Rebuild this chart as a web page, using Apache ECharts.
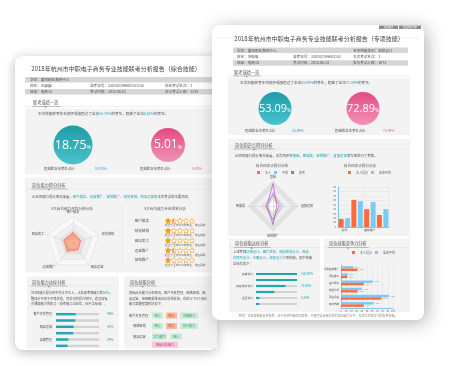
<!DOCTYPE html>
<html><head><meta charset="utf-8">
<script src="https://cdn.jsdelivr.net/npm/echarts@6/dist/echarts.min.js"></script>
<style>html,body{margin:0;padding:0;background:#fff}#c{width:453px;height:366px}</style>
</head><body><div id="c"></div>
<script>
// ---------- data ----------
const backTitle = '2018年杭州市中职电子商务专业技能联考分析报告（综合技能）';
const frontTitle = '2018年杭州市中职电子商务专业技能联考分析报告（专项技能）';
const backScores = [18.75, 5.01];
const frontScores = [53.09, 72.89];
const backRadarNames = ['客户服务', '网店美工', '运营推广', '网店运营', '视觉营销'];
const backRadarValues = [40, 36, 38, 32, 30];
const starNames = ['客户服务', '视觉营销', '网店美工', '运营推广', '营销推广'];
const starRatings = [1.5, 1, 1, 1.5, 1];
const starMax = 5;
const backSkillNames = ['客户关系管理', '网络营销', '网店运营', '网页设计', '店铺管理', '市场营销'];
const backSkillValues = [46, 45, 41, 40, 29, 27];
const frontRadarNames = ['基础', '客服类', '营销推广', '直播运营'];
const frontRadarOwn = [45, 30, 55, 25];
const frontRadarAvg = [55, 20, 65, 35];
const frontRadarTop = [90, 25, 75, 15];
const frontBarCats = ['视觉', '客服类', '营销推广', '运营推广'];
const frontBarOwn = [18, 61, 40, 27];
const frontBarAvg = [20, 58, 56, 40];
const frontSkillNames = ['店铺设计', '图片处理', '网店装修设计', '商品详情页设计', '主图设计', '海报设计'];
const frontSkillValues = [100, 100, 72, 45, 8.33, 8.33];
const compNames = ['视觉营销推广', '网店美工', '客户服务', '数据分析', '网店运营', '移动电商'];
const compAvg = [24, 13, 61, 40, 92, 63];
const compOwn = [32, 12, 44, 32, 78, 44];

// ---------- helpers ----------
const F = '"Noto Sans CJK SC","Noto Sans",sans-serif';
const TEAL = '#1ea8b5', PINK = '#e8588d', ORANGE = '#ff6a3a', BLUE = '#7cc9f4', PURPLE = '#c45ae0';
const TXT = '#555', SEC = '#f3f3f3', ROW = '#d6d6d6';
const STAR = 'path://M12 1L15.3 8L23 8.9L17.3 14.2L18.8 21.8L12 18L5.2 21.8L6.7 14.2L1 8.9L8.7 8Z';
const HALF = 'path://M12 1L8.7 8L1 8.9L6.7 14.2L5.2 21.8L12 18Z';
const G = [];
function R(x, y, w, h, fill, z, opt) { opt = opt || {}; G.push({ type: 'rect', silent: true, z: z, shape: { x: x, y: y, width: w, height: h, r: opt.r || 0 }, style: Object.assign({ fill: fill }, opt.style || {}) }); }
function T(x, y, s, size, color, z, align, hl) {
  align = align || 'left';
  const st = { text: s, fontSize: size, fontFamily: F, fill: color, textAlign: align, align: align, textVerticalAlign: 'middle', verticalAlign: 'middle' };
  if (hl) st.rich = { h: { fill: hl, color: hl, fontSize: size, fontFamily: F } };
  G.push({ type: 'text', silent: true, z: z, x: x, y: y, style: st });
}
function L(x1, y1, x2, y2, color, w, z, dash) { G.push({ type: 'line', silent: true, z: z, shape: { x1: x1, y1: y1, x2: x2, y2: y2 }, style: { stroke: color, lineWidth: w, lineDash: dash || null } }); }
function heading(x, y, s, x0, x1, z) {
  T(x, y, s, 4.2, TXT, z);
  L(x0, y + 4, x1, y + 4, '#e0e0e0', 0.5, z);
  L(x - 1, y + 4, x + s.length * 4.2 + 2, y + 4, '#999', 0.6, z);
  R(x + s.length * 2.1 - 0.6, y + 4, 1.2, 1.2, '#777', z);
}
function tag(x, y, w, s, fill, color, z) { R(x, y, w, 6, fill, z, { r: 0.5 }); T(x + w / 2, y + 3, s, 3, color, z, 'center'); }

// ---------- back card ----------
const zb = 1;
R(15, 56, 202, 294, '#fff', zb, { r: 8, style: { shadowBlur: 12, shadowColor: 'rgba(0,0,0,0.28)', shadowOffsetY: 2 } });
T(116, 69, backTitle, 6, '#444', zb + 1, 'center');
R(25, 77, 192, 5.5, ROW, zb + 1);
T(30, 79.8, '学校：富阳职业教育中心', 3.6, TXT, zb + 1);
T(30, 85.7, '姓名：王婷婷', 3.6, TXT, zb + 1);
T(90, 85.7, '准考证号：330182199603151234', 3.6, TXT, zb + 1);
T(165, 85.7, '综合考试名次：1', 3.6, TXT, zb + 1);
R(25, 89, 192, 5.5, ROW, zb + 1);
T(30, 91.8, '班级：电商15', 3.6, TXT, zb + 1);
T(90, 91.8, '考试时间：2018.06.01', 3.6, TXT, zb + 1);
T(165, 91.8, '参与考试人数：1258', 3.6, TXT, zb + 1);
heading(33, 102.5, '联考成绩一览', 25, 212, zb + 1);
R(25, 108.5, 192, 66, SEC, zb + 1);
T(38, 113.5, '本次技能联考综合测评成绩超过了全市{h|' + backScores[0] + '%}的考生，超越了全市{h|' + backScores[1] + '%}的考生。', 3.6, TXT, zb + 2, 'left', TEAL);
T(44, 168.5, '超越的全市考生占比', 3.4, TXT, zb + 2);
T(95, 168.5, backScores[0] + '%', 3.4, TEAL, zb + 2);
T(140, 168.5, '超越的全市考生占比', 3.4, TXT, zb + 2);
T(192, 168.5, backScores[1] + '%', 3.4, PINK, zb + 2);
R(25, 177.5, 192, 95, SEC, zb + 1);
heading(32, 185, '岗位能力得分分布', 25, 212, zb + 2);
T(32, 197, '从五项能力得分情况来看，{h|客户服务}、{h|运营推广}、{h|营销推广}、{h|视觉营销}、{h|网店运营}为本次考试的主要项目。', 3.4, TXT, zb + 2, 'left', TEAL);
T(72, 208.5, '5大岗位能力平均分布分析', 3.6, TXT, zb + 2, 'center');
T(165, 208.5, '5大岗位能力专业排名分析', 3.6, TXT, zb + 2, 'center');
L(122, 205, 122, 268, '#c8c8c8', 0.5, zb + 2, [1, 1]);
for (let i = 0; i < starNames.length; i++) {
  T(165, 225.3 + i * 9.8, '超过了全市' + (starRatings[i] * 20) + '%的考生，排名靠前', 2.7, '#666', zb + 2);
}
R(27, 276.5, 92, 72, SEC, zb + 1);
heading(32, 282, '岗位能力达标分析', 27, 119, zb + 2);
T(31, 293, '共3项能力得分在平均水平之上，占全部考核能力的{h|50%}，', 3.2, TXT, zb + 2, 'left', TEAL);
T(31, 298.5, '整体水平处于中等状态，有较大的提升空间，建议加强', 3.2, TXT, zb + 2);
T(31, 304, '对薄弱能力的练习（参考能力达标率，低于达标线）；', 3.2, TXT, zb + 2);
R(124, 276.5, 93, 72, SEC, zb + 1);
heading(130, 282, '岗位技能分析', 124, 217, zb + 2);
T(129, 293, '根据岗位能力分布情况，客户关系管理、网络营销、网', 3.2, TXT, zb + 2);
T(129, 298.5, '店运营、电商客服等岗位比较适合你，你在以下3个岗位', 3.2, TXT, zb + 2);
T(129, 304, '能力掌握程度较好如下：', 3.2, TXT, zb + 2);
T(129, 315.5, '客户关系管理', 3.2, TXT, zb + 2);
T(133, 326, '网络营销', 3.2, TXT, zb + 2);
T(133, 336.5, '网店运营', 3.2, TXT, zb + 2);
tag(152, 312.5, 11, '细心', '#c8ebd6', '#3a9a66', zb + 2);
tag(166, 312.5, 11, '耐心', '#f8b898', '#c0522a', zb + 2);
tag(180, 312.5, 18, '沟通能力', '#c8ebd6', '#3a9a66', zb + 2);
tag(152, 323, 11, '细心', '#c8ebd6', '#3a9a66', zb + 2);
tag(166, 323, 11, '耐心', '#f8b898', '#c0522a', zb + 2);
tag(180, 323, 18, '执行能力', '#c8ebd6', '#3a9a66', zb + 2);
tag(152, 333.5, 15, '学习能力', '#c8ebd6', '#3a9a66', zb + 2);
tag(170, 333.5, 12, '细心', '#c8ebd6', '#3a9a66', zb + 2);
tag(152, 341.5, 26, '数据分析能力', '#f9c6dc', '#c0407a', zb + 2);

// ---------- front card ----------
const zf = 3;
R(212, 25, 212, 295, '#fff', zf, { r: 8, style: { shadowBlur: 18, shadowColor: 'rgba(0,0,0,0.3)', shadowOffsetX: 3, shadowOffsetY: 3 } });
R(379, 25.5, 19, 3.5, '#8c8c8c', zf + 1);
R(399, 25.5, 22, 3.5, '#8c8c8c', zf + 1);
T(388.5, 27.3, '返回首页', 2.4, '#fff', zf + 2, 'center');
T(410, 27.3, '返回报告列表', 2.4, '#fff', zf + 2, 'center');
L(216, 38, 238, 38, '#e4e4e4', 0.6, zf + 1);
L(400, 38, 420, 38, '#e4e4e4', 0.6, zf + 1);
T(319, 39, frontTitle, 6, '#444', zf + 1, 'center');
R(233, 47.5, 175, 5.5, ROW, zf + 1);
T(237, 50.3, '学校：富阳职业教育中心', 3.6, TXT, zf + 2);
T(353, 50.3, '专项技能类别：视觉设计', 3.6, TXT, zf + 2);
T(237, 56.7, '姓名：范琳琳', 3.6, TXT, zf + 2);
T(293, 56.7, '准考证号：330182199603152', 3.6, TXT, zf + 2);
T(353, 56.7, '本次考试名次：1', 3.6, TXT, zf + 2);
R(233, 60.3, 175, 5.5, ROW, zf + 1);
T(237, 63.1, '班级：电商15', 3.6, TXT, zf + 2);
T(293, 63.1, '考试时间：2018.06.14', 3.6, TXT, zf + 2);
T(353, 63.1, '参与考试人数：1673', 3.6, TXT, zf + 2);
heading(234, 72, '联考成绩一览', 228, 410, zf + 1);
R(228, 78, 182, 57, SEC, zf + 1);
T(240, 82.5, '本次技能联考专项测评成绩超过了全市{h|' + frontScores[0] + '%}的考生，超越了全市{h|' + frontScores[1] + '%}的考生。', 3.6, TXT, zf + 2, 'left', TEAL);
T(245, 130.5, '超越的全市考生占比', 3.4, TXT, zf + 2);
T(292, 130.5, frontScores[0] + '%', 3.4, TEAL, zf + 2);
T(335, 130.5, '超越的全市考生占比', 3.4, TXT, zf + 2);
T(383, 130.5, frontScores[1] + '%', 3.4, PINK, zf + 2);
R(228, 139, 182, 97, SEC, zf + 1);
heading(235, 145, '岗位知识点得分分析', 228, 410, zf + 2);
T(235, 155.5, '从四项能力得分情况来看，本次测评在{h|基础}、{h|客服类}、{h|营销推广}、{h|直播运营}等方面进行了考核。', 3.4, TXT, zf + 2, 'left', TEAL);
T(272, 166, '岗位知识点得分分布', 3.6, TXT, zf + 2, 'center');
T(360, 166, '岗位知识点得分分析', 3.6, TXT, zf + 2, 'center');
R(229, 238.5, 91, 73.5, SEC, zf + 1);
heading(235, 243.5, '岗位技能达标分析', 229, 320, zf + 2);
T(233, 251.5, '上述考核{h|店铺设计}、{h|图片处理}、{h|网店装修设计}、{h|商品}', 3.3, TXT, zf + 2, 'left', TEAL);
T(233, 257.5, '{h|详情页设计}、{h|主图设计}、{h|海报设计}六项技能，其中技能', 3.3, TXT, zf + 2, 'left', TEAL);
T(233, 263.5, '达标率如下：', 3.3, TXT, zf + 2);
R(324, 238.5, 86, 73.5, SEC, zf + 1);
heading(329, 243.5, '岗位技能竞争力分析', 324, 410, zf + 2);
T(318, 315.5, '声明：本报告数据仅供参考，由于测评内容的局限性，不能完全反映学生的实际能力水平，仅作为后续学习的参考依据。', 3, '#888', zf + 2, 'center');

// ---------- star marks built from ratings ----------
const emptyStars = [], fullStars = [], halfStars = [];
starNames.forEach((n, i) => {
  for (let k = 0; k < starMax; k++) emptyStars.push([k + 0.5, n]);
  for (let k = 0; k < Math.floor(starRatings[i]); k++) fullStars.push([k + 0.5, n]);
  if (starRatings[i] % 1) halfStars.push([Math.floor(starRatings[i]) + 0.5, n]);
});

// ---------- option ----------
function circle(center, r, v, c1, c2, fs) {
  return {
    type: 'pie', z: 6, silent: true, center: center, radius: [0, r], label: {
      show: true, position: 'center', formatter: '{a|' + v + '}{b|%}',
      rich: { a: { fontSize: fs, color: '#fff', fontFamily: 'Open Sans' }, b: { fontSize: fs * 0.45, color: '#fff', fontFamily: 'Open Sans', padding: [fs * 0.4, 0, 0, 0] } }
    }, labelLine: { show: false },
    itemStyle: { color: { type: 'linear', x: 0, y: 0, x2: 0, y2: 1, colorStops: [{ offset: 0, color: c1 }, { offset: 1, color: c2 }] } },
    data: [{ value: v, name: String(v) }]
  };
}
const small = (s, c) => ({ fontSize: s, color: c || TXT, fontFamily: F });
const noAxis = { show: false };
const option = {
  animation: false,
  graphic: { elements: G },
  radar: [
    { center: [73, 243], radius: 27, shape: 'polygon', splitNumber: 4, z: 5, nameGap: 3,
      indicator: backRadarNames.map(n => ({ name: n, max: 100 })),
      axisName: small(3.2),
      splitArea: { areaStyle: { color: ['#ffffff', '#e3e3e3', '#efefef', '#f8f8f8'] } },
      splitLine: { lineStyle: { color: '#dcdcdc', width: 0.5 } },
      axisLine: { lineStyle: { color: '#d6d6d6', width: 0.5 } } },
    { center: [273, 206], radius: 25, shape: 'polygon', splitNumber: 4, z: 5, nameGap: 3,
      indicator: frontRadarNames.map(n => ({ name: n, max: 100 })),
      axisName: small(3),
      splitArea: { areaStyle: { color: ['#ffffff', '#e6e6e6', '#f0f0f0', '#e2e2e2'] } },
      splitLine: { lineStyle: { color: '#dcdcdc', width: 0.5 } },
      axisLine: { lineStyle: { color: '#d0d0d0', width: 0.5 } } }
  ],
  legend: [
    { z: 8, left: 257, top: 171, icon: 'rect', itemWidth: 3, itemHeight: 3, itemGap: 3, padding: 0, textStyle: small(3), data: ['本人', '平均', '优秀'] },
    { z: 8, left: 348, top: 171, icon: 'rect', itemWidth: 3, itemHeight: 3, itemGap: 3, padding: 0, textStyle: small(3), data: ['本人得分', '全市平均'] },
    { z: 8, left: 352, top: 251, icon: 'rect', itemWidth: 3, itemHeight: 3, itemGap: 3, padding: 0, textStyle: small(3), data: ['本人得分', '全市平均'] }
  ],
  grid: [
    { left: 165, top: 216, width: 30, height: 49 },
    { left: 56, top: 311, width: 43, height: 38 },
    { left: 338, top: 187, width: 51, height: 40 },
    { left: 256, top: 271, width: 41, height: 36 },
    { left: 341, top: 265, width: 52, height: 43 }
  ],
  xAxis: [
    { gridIndex: 0, type: 'value', min: 0, max: starMax, show: false },
    { gridIndex: 1, type: 'value', min: 0, max: 100, show: false },
    { gridIndex: 2, type: 'category', data: frontBarCats, z: 5, axisTick: { show: false },
      axisLine: { lineStyle: { color: '#69b8ea', width: 0.8 } }, axisLabel: Object.assign({ margin: 2 }, small(2.8)),
      splitLine: { show: true, lineStyle: { color: '#e3e3e3', width: 0.5 } } },
    { gridIndex: 3, type: 'value', min: 0, max: 100, show: false },
    { gridIndex: 4, type: 'value', min: 0, max: 100, interval: 10, z: 5, axisTick: { show: false },
      axisLine: { show: true, lineStyle: { color: '#69b8ea', width: 0.8 } }, axisLabel: Object.assign({ margin: 2 }, small(2.4)),
      splitLine: { show: true, lineStyle: { color: '#e3e3e3', width: 0.5 } } }
  ],
  yAxis: [
    { gridIndex: 0, type: 'category', inverse: true, data: starNames, z: 5, axisLine: noAxis, axisTick: noAxis, axisLabel: Object.assign({ margin: 16 }, small(3.6)) },
    { gridIndex: 1, type: 'category', inverse: true, data: backSkillNames, z: 5, axisLine: noAxis, axisTick: noAxis, axisLabel: Object.assign({ margin: 4 }, small(3.1)) },
    { gridIndex: 1, type: 'category', inverse: true, position: 'right', data: backSkillValues.map(v => v + '%'), z: 5, axisLine: noAxis, axisTick: noAxis, axisLabel: Object.assign({ margin: 8 }, small(3.2, TEAL)) },
    { gridIndex: 2, type: 'value', min: 0, max: 90, interval: 10, z: 5, axisTick: { show: false },
      axisLine: { show: true, lineStyle: { color: '#69b8ea', width: 0.8 } }, axisLabel: Object.assign({ margin: 2 }, small(2.4)),
      splitLine: { show: true, lineStyle: { color: '#e3e3e3', width: 0.5 } } },
    { gridIndex: 3, type: 'category', inverse: true, data: frontSkillNames, z: 5, axisLine: noAxis, axisTick: noAxis, axisLabel: Object.assign({ margin: 3 }, small(2.8)) },
    { gridIndex: 3, type: 'category', inverse: true, position: 'right', data: frontSkillValues.map(v => v.toFixed(2) + '%'), z: 5, axisLine: noAxis, axisTick: noAxis, axisLabel: Object.assign({ margin: 4 }, small(3, TEAL)) },
    { gridIndex: 4, type: 'category', inverse: true, data: compNames, z: 5, axisTick: { show: false },
      axisLine: { show: true, lineStyle: { color: '#69b8ea', width: 0.8 } }, axisLabel: Object.assign({ margin: 2 }, small(2.5)) }
  ],
  series: [
    circle([73, 145], 19.5, backScores[0], '#1f9ca8', '#48c3cc', 12.5),
    circle([168, 145], 17, backScores[1], '#e34a83', '#f293b6', 12),
    circle([275, 108.5], 16.5, frontScores[0], '#1f9ca8', '#48c3cc', 11),
    circle([363, 108.5], 16.5, frontScores[1], '#e34a83', '#f293b6', 11),
    { type: 'radar', radarIndex: 0, z: 6, symbol: 'none',
      data: [{ name: '平均得分', value: backRadarValues, lineStyle: { color: '#f26a3e', width: 0.6 }, areaStyle: { color: 'rgba(250,120,80,0.85)' }, itemStyle: { color: '#f26a3e' } }] },
    { type: 'radar', radarIndex: 1, z: 6, symbol: 'none',
      data: [
        { name: '本人', value: frontRadarOwn, lineStyle: { color: ORANGE, width: 0.8 }, itemStyle: { color: ORANGE } },
        { name: '平均', value: frontRadarAvg, lineStyle: { color: BLUE, width: 0.8 }, itemStyle: { color: BLUE } },
        { name: '优秀', value: frontRadarTop, lineStyle: { color: PURPLE, width: 0.8 }, itemStyle: { color: PURPLE } }
      ] },
    { type: 'scatter', xAxisIndex: 0, yAxisIndex: 0, z: 6, silent: true, symbol: STAR, symbolSize: 5.2,
      itemStyle: { color: '#fff', borderColor: '#f0a020', borderWidth: 0.6, opacity: 1 }, data: emptyStars },
    { type: 'scatter', xAxisIndex: 0, yAxisIndex: 0, z: 7, silent: true, symbol: STAR, symbolSize: 5.2,
      itemStyle: { color: '#f39c12', borderColor: '#f0a020', borderWidth: 0.6, opacity: 1 }, data: fullStars },
    { type: 'scatter', xAxisIndex: 0, yAxisIndex: 0, z: 7, silent: true, symbol: HALF, symbolSize: [2.6, 5.2], symbolOffset: [-1.3, 0],
      itemStyle: { color: '#f39c12', opacity: 1 }, data: halfStars },
    { type: 'bar', xAxisIndex: 1, yAxisIndex: 1, z: 6, silent: true, barWidth: 2.4, data: backSkillValues,
      showBackground: true, backgroundStyle: { color: '#d3d3d3' }, itemStyle: { color: TEAL } },
    { type: 'bar', name: '本人得分', xAxisIndex: 2, yAxisIndex: 3, z: 6, silent: true, barWidth: 5, barGap: '30%', data: frontBarOwn, itemStyle: { color: ORANGE } },
    { type: 'bar', name: '全市平均', xAxisIndex: 2, yAxisIndex: 3, z: 6, silent: true, barWidth: 5, barGap: '30%', data: frontBarAvg, itemStyle: { color: BLUE } },
    { type: 'bar', xAxisIndex: 3, yAxisIndex: 4, z: 6, silent: true, barWidth: 2.2, data: frontSkillValues,
      showBackground: true, backgroundStyle: { color: '#d3d3d3' }, itemStyle: { color: TEAL } },
    { type: 'bar', name: '全市平均', xAxisIndex: 4, yAxisIndex: 6, z: 6, silent: true, barWidth: 2.4, barGap: '0%', data: compAvg, itemStyle: { color: BLUE },
      label: { show: true, position: 'right', distance: 1.5, formatter: '{c}%', fontSize: 2.4, color: '#4aa8dc' } },
    { type: 'bar', name: '本人得分', xAxisIndex: 4, yAxisIndex: 6, z: 6, silent: true, barWidth: 2.4, barGap: '0%', data: compOwn, itemStyle: { color: ORANGE },
      label: { show: true, position: 'right', distance: 1.5, formatter: '{c}%', fontSize: 2.4, color: ORANGE } }
  ]
};
const chart = echarts.init(document.getElementById('c'), null, { renderer: 'canvas' });
chart.setOption(option);
</script>
</body></html>
